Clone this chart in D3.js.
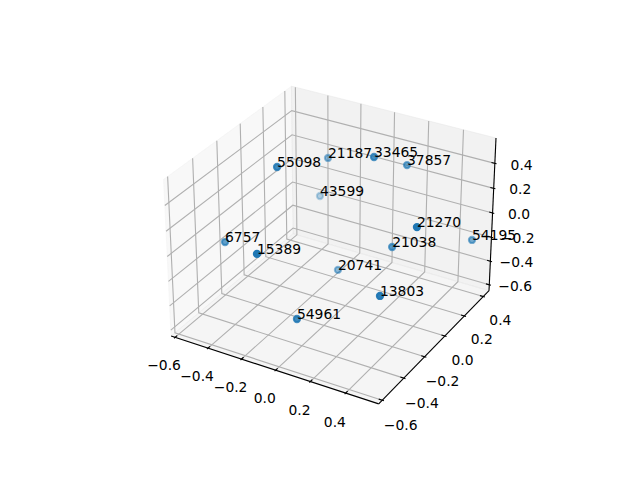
<!DOCTYPE html>
<html><head><meta charset="utf-8"><style>html,body{margin:0;background:#fff}text{font-family:"DejaVu Sans";fill:#000}</style>
<script src="https://cdn.jsdelivr.net/npm/d3@7"></script></head><body><svg id="c" width="640" height="480" style="display:block"></svg>
<script>
const labels=["55098","21187","33465","37857","43599","21270","54195","21038","6757","15389","20741","13803","54961"];
const xs=[-0.242,-0.224,0.136,0.214,-0.319,0.506,0.572,0.277,-0.460,-0.136,-0.035,0.409,0.032];
const ys=[-0.239,0.188,0.041,0.229,0.259,-0.170,0.273,-0.010,-0.382,-0.573,-0.015,-0.341,-0.490];
const zs=[0.560,0.340,0.580,0.414,-0.057,0.329,-0.083,-0.041,-0.011,0.173,-0.352,-0.116,-0.340];
const xLim=[-0.6,0.56],yLim=[-0.61,0.44],zLim=[-0.625,0.575];
const ticks=[-0.6,-0.4,-0.2,0,0.2,0.4];

const k=1.8294640721620434/Math.sqrt(41),box=[4*k,4*k,3*k],R=box.map(v=>v/2);
const sx=d3.scaleLinear(xLim,[0,box[0]]),sy=d3.scaleLinear(yLim,[0,box[1]]),sz=d3.scaleLinear(zLim,[0,box[2]]);
const el=30*Math.PI/180,az=-60*Math.PI/180,dist=10;
const n=[Math.cos(el)*Math.cos(az),Math.cos(el)*Math.sin(az),Math.sin(el)];
const cross=(a,b)=>[a[1]*b[2]-a[2]*b[1],a[2]*b[0]-a[0]*b[2],a[0]*b[1]-a[1]*b[0]];
const dot=(a,b)=>a[0]*b[0]+a[1]*b[1]+a[2]*b[2];
let u=cross([0,0,1],n);const ul=Math.hypot(...u);u=u.map(d=>d/ul);const v=cross(n,u);
const px=d3.scaleLinear([-0.095,0.09],[143.2,512.8]),py=d3.scaleLinear([-0.095,0.09],[427.2,57.6]);
function proj(p){const w=[sx(p[0])-R[0],sy(p[1])-R[1],sz(p[2])-R[2]];const D=dist-dot(w,n);return [px(dot(w,u)/D),py(dot(w,v)/D),-dist/D];}

const svg=d3.select("#c");
const dx=(xLim[1]-xLim[0])/12,dy=(yLim[1]-yLim[0])/12,dz=(zLim[1]-zLim[0])/12;
const X0=xLim[0]-dx/4,X1=xLim[1]+dx/4,Y0=yLim[0]-dy/4,Y1=yLim[1]+dy/4,Z0=zLim[0]-dz/4,Z1=zLim[1]+dz/4;
const line=d3.line().x(d=>proj(d)[0]).y(d=>proj(d)[1]);

[[[[X0,Y0,Z0],[X0,Y1,Z0],[X0,Y1,Z1],[X0,Y0,Z1]],0.95],
 [[[X0,Y1,Z0],[X1,Y1,Z0],[X1,Y1,Z1],[X0,Y1,Z1]],0.90],
 [[[X0,Y0,Z0],[X1,Y0,Z0],[X1,Y1,Z0],[X0,Y1,Z0]],0.925]].forEach(([q,g])=>{
  const c=Math.round(g*255),col=`rgb(${c},${c},${c})`;
  svg.append("path").attr("d",line(q)+"Z").attr("fill",col).attr("fill-opacity",.5).attr("stroke",col).attr("stroke-opacity",.5);
});
const stroke=(p,col)=>svg.append("path").attr("d",line(p)).attr("fill","none").attr("stroke",col).attr("stroke-width",1.11);
ticks.forEach(t=>{
  stroke([[t,Y0,Z0],[t,Y1,Z0],[t,Y1,Z1]],"#b0b0b0");
  stroke([[X1,t,Z0],[X0,t,Z0],[X0,t,Z1]],"#b0b0b0");
  stroke([[X0,Y0,t],[X0,Y1,t],[X1,Y1,t]],"#b0b0b0");
});
stroke([[X0,Y0,Z0],[X1,Y0,Z0]],"#000");
stroke([[X1,Y0,Z0],[X1,Y1,Z0]],"#000");
stroke([[X1,Y1,Z0],[X1,Y1,Z1]],"#000");

const fmt=t=>d3.format(".1f")(t).replace("-","\u2212");
const L=(3.5+8)*48/(72*2*369.6/100);
function tickLabel(p,t,ox,oy){const q=proj(p);svg.append("text").attr("x",q[0]+ox).attr("y",q[1]+oy).attr("text-anchor","middle").attr("font-size",13.89).text(fmt(t));}
ticks.forEach(t=>{
  stroke([[t,Y0-.1*dy,Z0],[t,Y0+.2*dy,Z0]],"#000");
  stroke([[X1+.1*dx,t,Z0],[X1-.2*dx,t,Z0]],"#000");
  stroke([[X1+.1*dx,Y1,t],[X1-.2*dx,Y1,t]],"#000");
  tickLabel([t,Y0-L*dy,Z0-L*dz],t,-0.5,10.5);
  tickLabel([X1+L*dx,t,Z0-L*dz],t,0.5,11);
  tickLabel([X1+L*dx,Y1+L*dy,t],t,0.5,9.5);
});

const pts=labels.map((l,i)=>{const q=proj([xs[i],ys[i],zs[i]]);return {l,x:q[0],y:q[1],d:q[2]};});
const dn=d3.scaleLinear(d3.extent(pts,d=>d.d),[0,1]);
svg.append("g").selectAll("circle").data(pts.slice().sort((a,b)=>b.d-a.d)).join("circle")
  .attr("cx",d=>d.x).attr("cy",d=>d.y).attr("r",3.1)
  .attr("fill","#1f77b4").attr("stroke","#1f77b4").attr("stroke-width",2.08)
  .attr("fill-opacity",d=>1-dn(d.d)*.7).attr("stroke-opacity",d=>1-dn(d.d)*.7);
svg.append("g").selectAll("text").data(pts).join("text")
  .attr("x",d=>d.x).attr("y",d=>d.y).attr("font-size",13.89).text(d=>d.l);
</script></body></html>
